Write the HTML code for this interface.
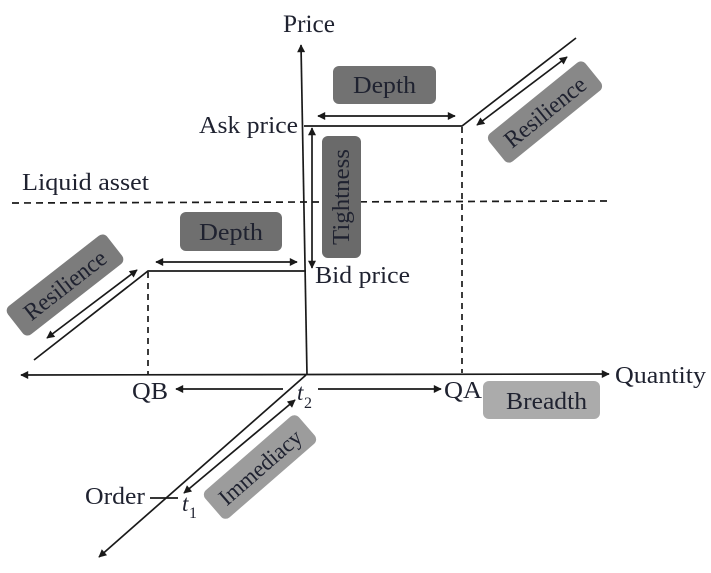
<!DOCTYPE html>
<html><head><meta charset="utf-8"><style>
html,body{margin:0;padding:0;background:#fff;}
svg{display:block;}
text{font-family:"Liberation Serif",serif;fill:#1f2230;}
</style></head><body>
<svg width="711" height="573" viewBox="0 0 711 573" xmlns="http://www.w3.org/2000/svg">
<defs>
<marker id="ah" viewBox="0 0 10 10" refX="9" refY="5" markerWidth="10" markerHeight="8" markerUnits="userSpaceOnUse" orient="auto-start-reverse">
<path d="M0,0 L10,5 L0,10 z" fill="#1a1a1a"/>
</marker>
</defs>
<g stroke="#1a1a1a" stroke-width="1.7" fill="none">
<line x1="307" y1="375" x2="301" y2="45" marker-end="url(#ah)"/>
<line x1="21" y1="375" x2="609" y2="374" marker-start="url(#ah)" marker-end="url(#ah)"/>
<line x1="306" y1="375" x2="99" y2="557" marker-end="url(#ah)"/>
<polyline points="304,126 462,126 576,38"/>
<polyline points="306,271 148,271 34,360"/>
<line x1="12" y1="203" x2="610" y2="201" stroke-dasharray="7,5"/>
<line x1="462" y1="127" x2="462" y2="373" stroke-dasharray="6,5"/>
<line x1="148" y1="272" x2="148" y2="374" stroke-dasharray="6,5"/>
<line x1="318" y1="116" x2="455" y2="116" marker-start="url(#ah)" marker-end="url(#ah)"/>
<line x1="156" y1="262" x2="297" y2="262" marker-start="url(#ah)" marker-end="url(#ah)"/>
<line x1="312" y1="128" x2="312" y2="268" marker-start="url(#ah)" marker-end="url(#ah)"/>
<line x1="477" y1="125" x2="567" y2="57" marker-start="url(#ah)" marker-end="url(#ah)"/>
<line x1="137" y1="270" x2="47" y2="338" marker-start="url(#ah)" marker-end="url(#ah)"/>
<line x1="283" y1="389" x2="176" y2="389" marker-end="url(#ah)"/>
<line x1="318" y1="389" x2="441" y2="389" marker-end="url(#ah)"/>
<line x1="295" y1="400" x2="184" y2="493" marker-start="url(#ah)" marker-end="url(#ah)"/>
<line x1="150" y1="498" x2="178" y2="498"/>
</g>

<rect x="333" y="66" width="103" height="38" rx="6" fill="#727272"/>
<text x="384.5" y="93" font-size="24" text-anchor="middle" textLength="63" lengthAdjust="spacingAndGlyphs">Depth</text>

<rect x="180" y="212" width="102" height="39" rx="6" fill="#6f6f6f"/>
<text x="231" y="240" font-size="24" text-anchor="middle" textLength="64" lengthAdjust="spacingAndGlyphs">Depth</text>

<rect x="322" y="136" width="39" height="122" rx="6" fill="#6a6a6a"/>
<text transform="translate(349,197) rotate(-90)" font-size="24" text-anchor="middle" textLength="96" lengthAdjust="spacingAndGlyphs">Tightness</text>

<g transform="translate(545,112) rotate(-39)">
<rect x="-62" y="-18" width="124" height="36" rx="6" fill="#888"/>
<text x="0" y="8" font-size="24" text-anchor="middle" textLength="98" lengthAdjust="spacingAndGlyphs">Resilience</text>
</g>

<g transform="translate(65,285) rotate(-38)">
<rect x="-63" y="-18" width="126" height="36" rx="6" fill="#7c7c7c"/>
<text x="0" y="8" font-size="24" text-anchor="middle" textLength="98" lengthAdjust="spacingAndGlyphs">Resilience</text>
</g>

<g transform="translate(260,467) rotate(-41)">
<rect x="-62" y="-18" width="124" height="36" rx="6" fill="#9c9c9c"/>
<text x="0" y="8" font-size="23" text-anchor="middle" textLength="102" lengthAdjust="spacingAndGlyphs">Immediacy</text>
</g>

<rect x="483" y="381" width="117" height="38" rx="6" fill="#ababab"/>
<text x="546.5" y="409" font-size="24" text-anchor="middle" textLength="81" lengthAdjust="spacingAndGlyphs">Breadth</text>

<text x="283" y="32" font-size="25" textLength="52" lengthAdjust="spacingAndGlyphs">Price</text>
<text x="199" y="133" font-size="24" textLength="99" lengthAdjust="spacingAndGlyphs">Ask price</text>
<text x="22" y="190" font-size="24" textLength="127" lengthAdjust="spacingAndGlyphs">Liquid asset</text>
<text x="315" y="283" font-size="24" textLength="95" lengthAdjust="spacingAndGlyphs">Bid price</text>
<text x="615" y="383" font-size="24" textLength="91" lengthAdjust="spacingAndGlyphs">Quantity</text>
<text x="132" y="399" font-size="24" textLength="36" lengthAdjust="spacingAndGlyphs">QB</text>
<text x="444" y="398" font-size="24" textLength="38" lengthAdjust="spacingAndGlyphs">QA</text>
<text x="85" y="504" font-size="24" textLength="60" lengthAdjust="spacingAndGlyphs">Order</text>
<text x="297" y="400" font-size="23" font-style="italic">t</text>
<text x="304" y="408" font-size="16">2</text>
<text x="182" y="511" font-size="23" font-style="italic">t</text>
<text x="189" y="518" font-size="16">1</text>
</svg>
</body></html>
